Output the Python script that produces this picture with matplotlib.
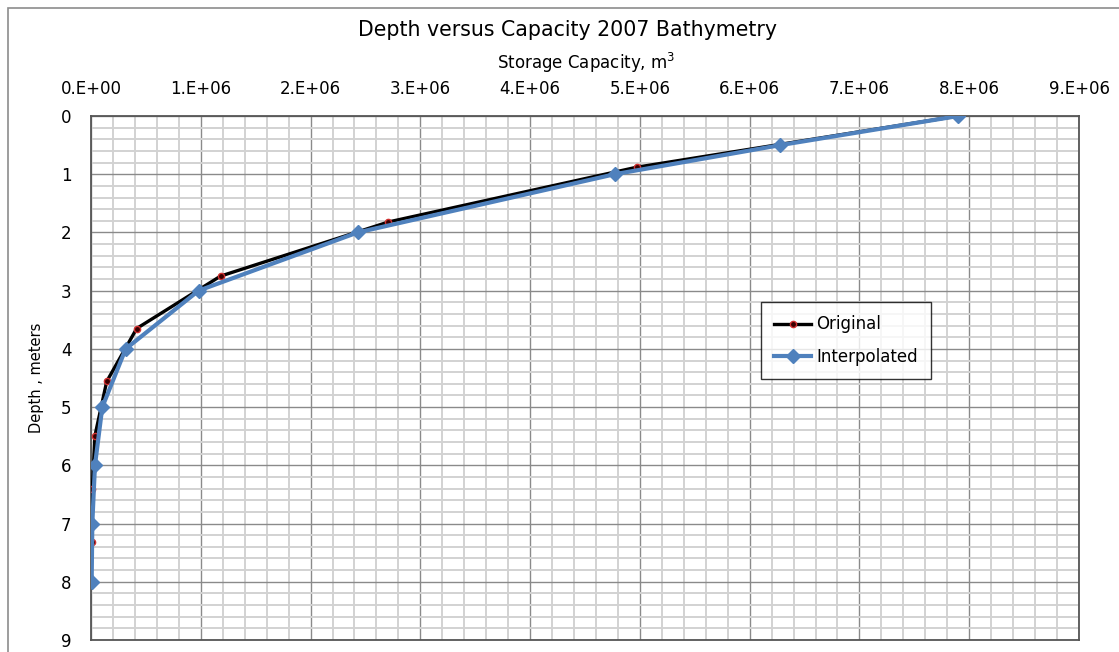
import matplotlib.pyplot as plt
import matplotlib.ticker as mticker
from matplotlib.patches import Rectangle

# interpolated curve (blue diamonds)
depth_interp = [0, 0.5, 1, 2, 3, 4, 5, 6, 7, 8]
cap_interp = [7.90e6, 6.28e6, 4.77e6, 2.43e6, 0.98e6, 0.316e6, 0.103e6, 0.036e6, 0.012e6, 0.006e6]

# original survey curve (black line, small red dots)
depth_orig = [0, 0.88, 1.82, 2.75, 3.65, 4.56, 5.49, 6.40, 7.32]
cap_orig = [7.90e6, 4.97e6, 2.71e6, 1.18e6, 0.416e6, 0.143e6, 0.036e6, 0.012e6, 0.006e6]

W, H = 1119, 652
plt.rcParams['font.family'] = ['DejaVu Sans']

fig = plt.figure(figsize=(W / 100, H / 100), dpi=100)
fig.patches.append(Rectangle((8 / W, -0.1), 1.2, 1 - 8 / H + 0.1, transform=fig.transFigure,
                             fill=False, edgecolor='#8c8c8c', linewidth=1.2))

ax = fig.add_axes([91 / W, 1 - 640 / H, (1079 - 91) / W, (640 - 116) / H])

ax.plot(cap_orig, depth_orig, color='black', linewidth=2.4, marker='o', markersize=4.5,
        markerfacecolor='#3a0000', markeredgecolor='#d03030', markeredgewidth=1, label='Original', zorder=3)
ax.plot(cap_interp, depth_interp, color='#4f81bd', linewidth=3.0, marker='D', markersize=7,
        markerfacecolor='#4f81bd', markeredgecolor='#4f81bd', label='Interpolated', zorder=4)

ax.set_xlim(0, 9e6)
ax.set_ylim(9, 0)
ax.xaxis.set_major_locator(mticker.MultipleLocator(1e6))
ax.xaxis.set_minor_locator(mticker.MultipleLocator(2e5))
ax.yaxis.set_major_locator(mticker.MultipleLocator(1))
ax.yaxis.set_minor_locator(mticker.MultipleLocator(0.2))
ax.xaxis.set_major_formatter(mticker.FuncFormatter(lambda v, p: f"{v:.0E}".replace('E', '.E')))

ax.xaxis.tick_top()
ax.tick_params(which='both', length=0)
ax.tick_params(axis='x', which='major', labelsize=12, pad=13)
ax.tick_params(axis='y', which='major', labelsize=12, pad=14)

ax.grid(which='minor', color='#d2d2d2', linewidth=1.4)
ax.grid(which='major', color='#8a8a8a', linewidth=1.0)
ax.set_axisbelow(True)
for s in ax.spines.values():
    s.set_color('#555555')
    s.set_linewidth(1.3)

ax.set_ylabel('Depth , meters', fontsize=10.5, labelpad=12)
fig.text(586 / W, 1 - 63 / H, 'Storage Capacity, m$^3$', ha='center', va='center', fontsize=12)
fig.text(568 / W, 1 - 30 / H, 'Depth versus Capacity 2007 Bathymetry', ha='center', va='center', fontsize=14.8)

leg = ax.legend(loc='upper left', bbox_to_anchor=((761 - 91) / 988, (640 - 302) / 524),
                fontsize=12, frameon=True, fancybox=False, borderpad=0.8, labelspacing=0.85,
                handlelength=2.2, handletextpad=0.3, borderaxespad=0)
leg.get_frame().set_edgecolor('black')
leg.get_frame().set_linewidth(1.0)

fig.savefig('out.png', dpi=100)
